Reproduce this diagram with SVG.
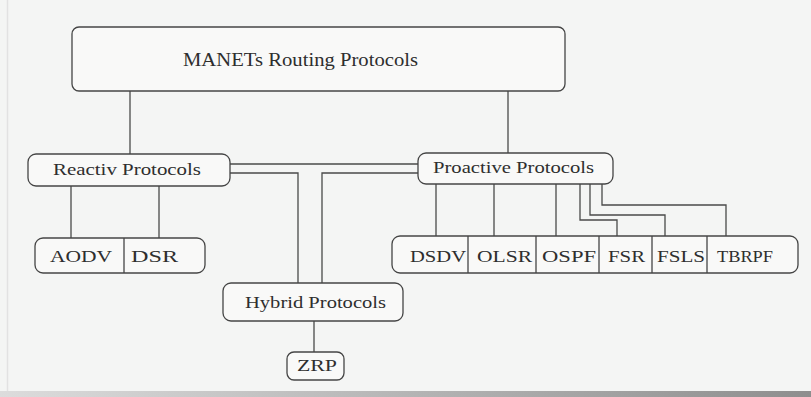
<svg xmlns="http://www.w3.org/2000/svg" width="811" height="397" viewBox="0 0 811 397">
<style>
.box{fill:#f9f9f8;stroke:#454545;stroke-width:1.3}
.div{stroke:#454545;stroke-width:1.3}
.c{fill:none;stroke:#4a4a4a;stroke-width:1.3}
.t{font-family:"Liberation Serif","Times New Roman",serif;fill:#2e2e2e;text-anchor:start}
</style>
<defs>
<linearGradient id="bot" x1="0" y1="0" x2="1" y2="0">
<stop offset="0" stop-color="#dcdcdc"/>
<stop offset="1" stop-color="#8e8e8e"/>
</linearGradient>
</defs>
<rect x="0" y="0" width="811" height="397" fill="#f4f5f4"/>
<line x1="7.5" y1="0" x2="7.5" y2="392" stroke="#e2e2e2" stroke-width="1.5"/>
<rect x="0" y="391" width="811" height="6" fill="url(#bot)"/>

<g id="connectors">
<path class="c" d="M130 91V154"/>
<path class="c" d="M508 91V153"/>
<path class="c" d="M71 186V238"/>
<path class="c" d="M159 186V238"/>
<path class="c" d="M230 164H418"/>
<path class="c" d="M230 173H298V283"/>
<path class="c" d="M418 173H322V283"/>
<path class="c" d="M314 321V352"/>
<path class="c" d="M436 184V236"/>
<path class="c" d="M494 184V236"/>
<path class="c" d="M556 184V236"/>
<path class="c" d="M580 184V220H617V236"/>
<path class="c" d="M590 184V215H665V236"/>
<path class="c" d="M602 184V205H726V236"/>
</g>

<g id="manets">
<rect class="box" x="72" y="27" width="493" height="64" rx="7"/>
<text class="t" x="183" y="66" font-size="19" textLength="235" lengthAdjust="spacingAndGlyphs">MANETs Routing Protocols</text>
</g>

<g id="reactive">
<rect class="box" x="28" y="154" width="202" height="32" rx="8"/>
<text class="t" x="53" y="175" font-size="16" textLength="148" lengthAdjust="spacingAndGlyphs">Reactiv Protocols</text>
</g>

<g id="proactive">
<rect class="box" x="418" y="153" width="195" height="31" rx="8"/>
<text class="t" x="433" y="173" font-size="16" textLength="161" lengthAdjust="spacingAndGlyphs">Proactive Protocols</text>
</g>

<g id="reactive-children">
<rect class="box" x="35" y="238" width="170" height="35" rx="8"/>
<line class="div" x1="124" y1="238" x2="124" y2="273"/>
<text class="t" x="50" y="262" font-size="16" textLength="62" lengthAdjust="spacingAndGlyphs">AODV</text>
<text class="t" x="131" y="262" font-size="16" textLength="47" lengthAdjust="spacingAndGlyphs">DSR</text>
</g>

<g id="proactive-children">
<rect class="box" x="392" y="236" width="406" height="37" rx="8"/>
<line class="div" x1="468" y1="236" x2="468" y2="273"/>
<line class="div" x1="536" y1="236" x2="536" y2="273"/>
<line class="div" x1="599" y1="236" x2="599" y2="273"/>
<line class="div" x1="652" y1="236" x2="652" y2="273"/>
<line class="div" x1="707" y1="236" x2="707" y2="273"/>
<text class="t" x="410" y="262" font-size="17" textLength="56" lengthAdjust="spacingAndGlyphs">DSDV</text>
<text class="t" x="477" y="262" font-size="17" textLength="55" lengthAdjust="spacingAndGlyphs">OLSR</text>
<text class="t" x="542" y="262" font-size="17" textLength="54" lengthAdjust="spacingAndGlyphs">OSPF</text>
<text class="t" x="608" y="262" font-size="17" textLength="37" lengthAdjust="spacingAndGlyphs">FSR</text>
<text class="t" x="657" y="262" font-size="17" textLength="48" lengthAdjust="spacingAndGlyphs">FSLS</text>
<text class="t" x="717" y="262" font-size="17" textLength="56" lengthAdjust="spacingAndGlyphs">TBRPF</text>
</g>

<g id="hybrid">
<rect class="box" x="223" y="283" width="180" height="38" rx="8"/>
<text class="t" x="245" y="308" font-size="16" textLength="141" lengthAdjust="spacingAndGlyphs">Hybrid Protocols</text>
</g>

<g id="zrp">
<rect class="box" x="287" y="352" width="57" height="28" rx="7"/>
<text class="t" x="297" y="371" font-size="16" textLength="40" lengthAdjust="spacingAndGlyphs">ZRP</text>
</g>
</svg>
